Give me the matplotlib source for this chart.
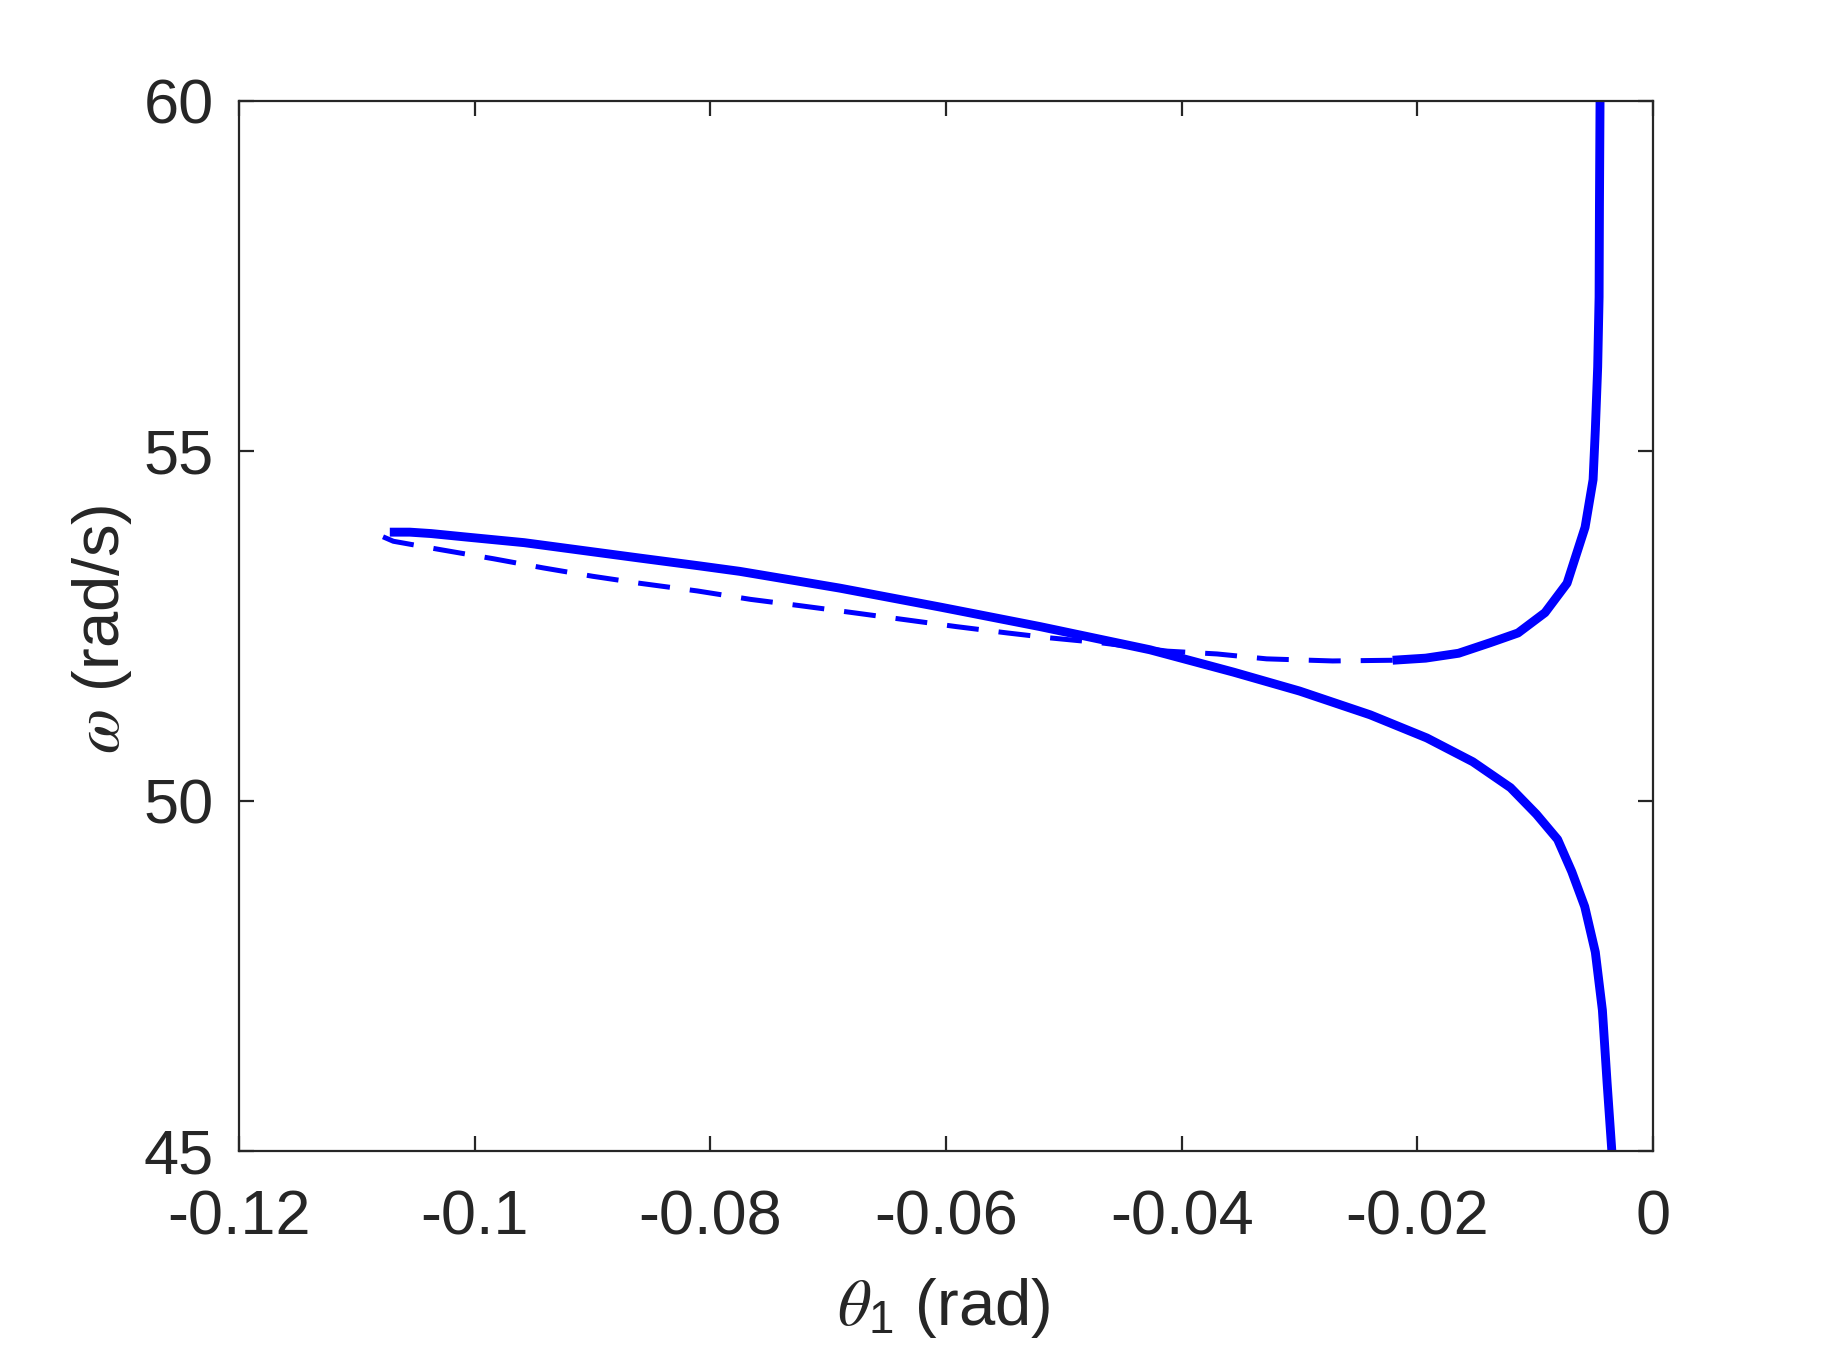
import matplotlib
matplotlib.use("Agg")
import matplotlib.pyplot as plt

# ---- data ----
# upper stable branch (solid)
theta_upper = [-0.00450, -0.00455, -0.00458, -0.00470, -0.00490, -0.00509, -0.00577,
               -0.00730, -0.00917, -0.01146, -0.01383, -0.0165, -0.0193, -0.0221]
omega_upper = [60.0, 58.5, 57.2, 56.2, 55.3, 54.59, 53.91,
               53.11, 52.69, 52.40, 52.26, 52.11, 52.04, 52.01]

# unstable branch (dashed)
theta_unst = [-0.0221, -0.0272, -0.0328, -0.0370, -0.0412, -0.0469, -0.0512, -0.0548,
              -0.0591, -0.0635, -0.0679, -0.0724, -0.0766, -0.0811, -0.0860, -0.0900,
              -0.0942, -0.0984, -0.1029, -0.1069, -0.1080, -0.1075]
omega_unst = [52.01, 52.00, 52.03, 52.10, 52.14, 52.26, 52.33, 52.40,
              52.49, 52.59, 52.69, 52.79, 52.88, 53.00, 53.11, 53.21,
              53.33, 53.46, 53.59, 53.71, 53.79, 53.83]

# lower stable branch (solid)
theta_lower = [-0.1072, -0.1055, -0.1037, -0.1007, -0.0958, -0.0909, -0.0860, -0.0810,
               -0.0775, -0.0690, -0.0605, -0.0520, -0.0427, -0.0356, -0.0300, -0.0240,
               -0.0192, -0.0153, -0.0121, -0.0099, -0.0081, -0.0069, -0.0058, -0.0049,
               -0.0043, -0.0039, -0.0035]
omega_lower = [53.84, 53.84, 53.82, 53.77, 53.69, 53.58, 53.47, 53.36,
               53.28, 53.04, 52.77, 52.49, 52.16, 51.84, 51.57, 51.23,
               50.90, 50.56, 50.19, 49.81, 49.45, 48.99, 48.49, 47.84,
               47.01, 45.97, 45.0]

xticks = [-0.12, -0.1, -0.08, -0.06, -0.04, -0.02, 0]
xticklabels = ["-0.12", "-0.1", "-0.08", "-0.06", "-0.04", "-0.02", "0"]
yticks = [45, 50, 55, 60]
yticklabels = ["45", "50", "55", "60"]

# ---- style ----
txt = "#262626"
plt.rcParams["font.family"] = ["Liberation Sans", "DejaVu Sans"]
plt.rcParams["mathtext.fontset"] = "custom"
plt.rcParams["mathtext.it"] = "STIXGeneral:italic"
plt.rcParams["mathtext.rm"] = "Liberation Sans"
plt.rcParams["lines.scale_dashes"] = False

fig = plt.figure(figsize=(9.135, 6.85), dpi=200)
ax = fig.add_axes([0.1308, 0.1599, 0.774, 0.7664])

ax.plot(theta_upper, omega_upper, color="#0000ff", lw=3.2, solid_capstyle="butt",
        solid_joinstyle="round")
ax.plot(theta_unst, omega_unst, color="#0000ff", lw=1.8, dashes=(11.5, 7.2))
ax.plot(theta_lower, omega_lower, color="#0000ff", lw=3.2, solid_capstyle="butt",
        solid_joinstyle="round")

ax.set_xlim(-0.12, 0)
ax.set_ylim(45, 60)
ax.set_xticks(xticks)
ax.set_xticklabels(xticklabels)
ax.set_yticks(yticks)
ax.set_yticklabels(yticklabels)

for s in ax.spines.values():
    s.set_color(txt)
    s.set_linewidth(0.8)
ax.tick_params(direction="in", length=5.4, width=0.8, color=txt, labelcolor=txt,
               labelsize=22.7, top=True, right=True)
ax.tick_params(axis="x", pad=13.5)
ax.tick_params(axis="y", pad=9.0)

ax.set_xlabel(r"$\theta_1$ (rad)", fontsize=23.5, color=txt)
ax.set_ylabel(r"$\omega$ (rad/s)", fontsize=23.5, color=txt)
ax.xaxis.set_label_coords(0.4986, -0.119)
ax.yaxis.set_label_coords(-0.074, 0.497)

fig.savefig("out.png", dpi=200)
